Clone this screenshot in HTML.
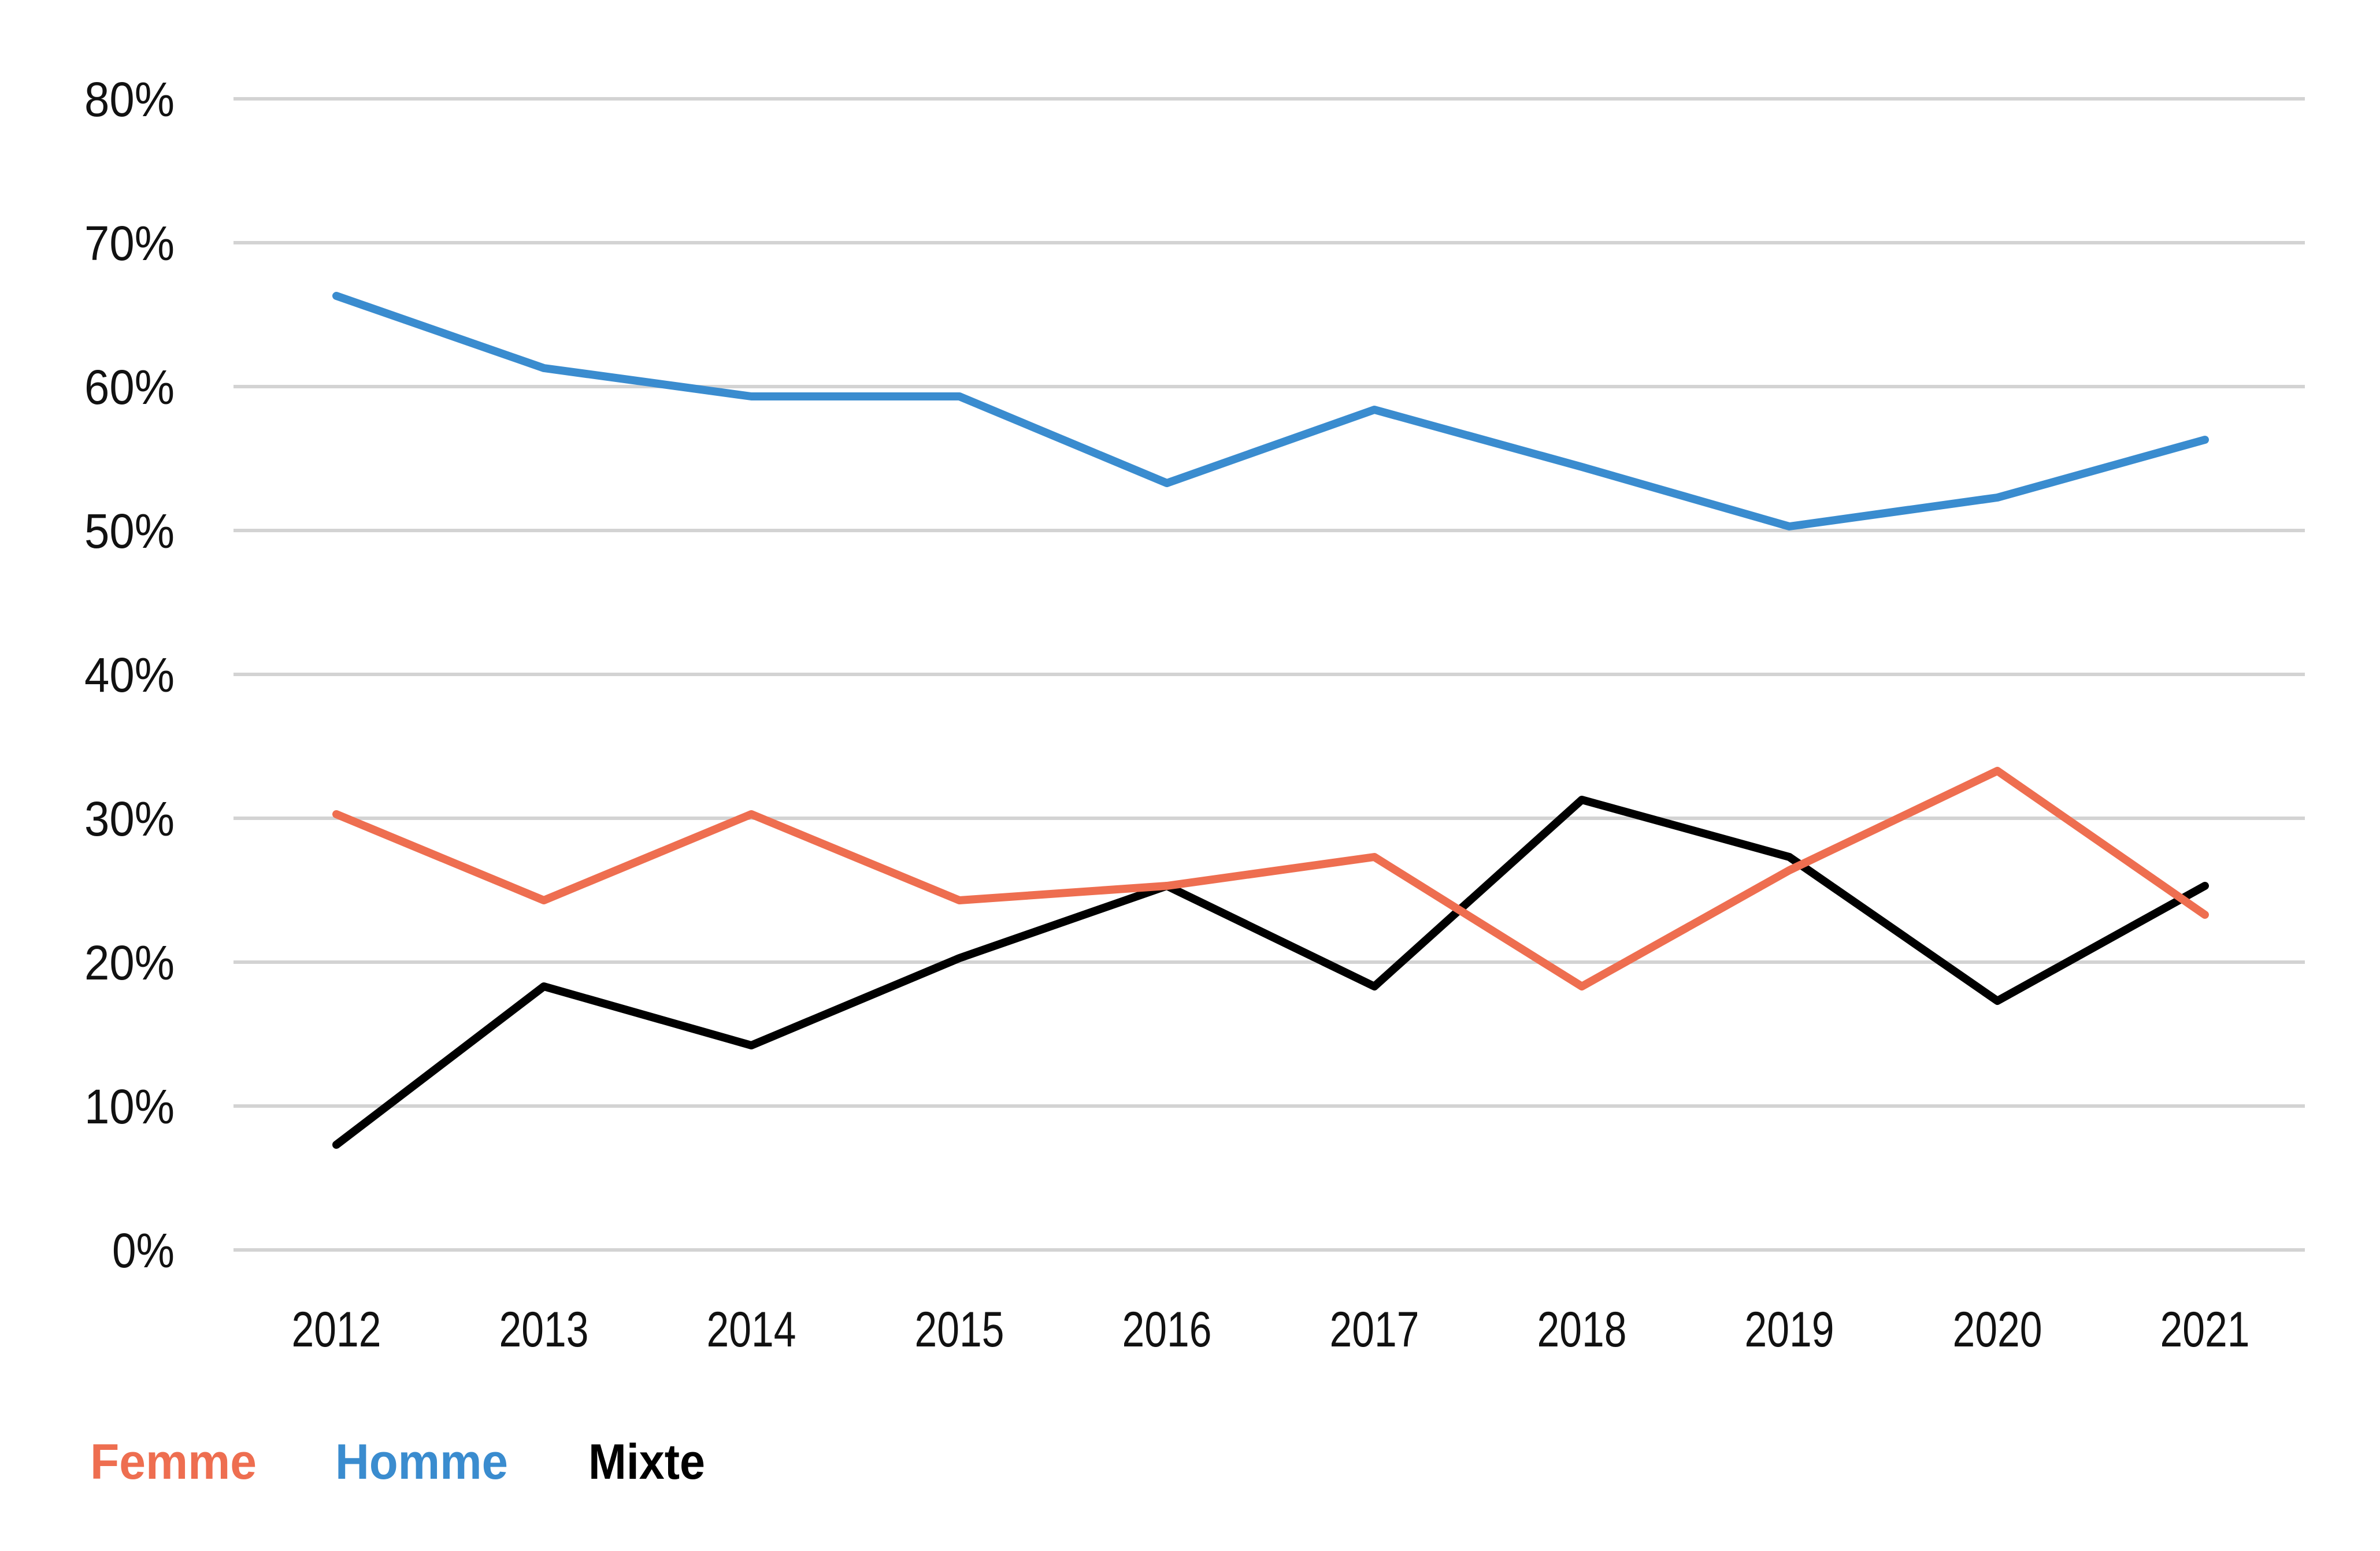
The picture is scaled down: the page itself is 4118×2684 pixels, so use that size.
<!DOCTYPE html>
<html><head><meta charset="utf-8"><style>html,body{margin:0;padding:0;background:#fff}svg{display:block}</style></head>
<body>
<svg width="4118" height="2684" viewBox="0 0 4118 2684" xmlns="http://www.w3.org/2000/svg" font-family="'Liberation Sans', sans-serif">
<g stroke="#d3d3d3" stroke-width="6">
<line x1="404" x2="3988" y1="171" y2="171"/>
<line x1="404" x2="3988" y1="420" y2="420"/>
<line x1="404" x2="3988" y1="669" y2="669"/>
<line x1="404" x2="3988" y1="918" y2="918"/>
<line x1="404" x2="3988" y1="1167" y2="1167"/>
<line x1="404" x2="3988" y1="1416" y2="1416"/>
<line x1="404" x2="3988" y1="1665" y2="1665"/>
<line x1="404" x2="3988" y1="1914" y2="1914"/>
<line x1="404" x2="3988" y1="2163" y2="2163"/>
</g>
<g font-size="84" fill="#111" text-anchor="end">
<text x="302" y="201" textLength="156" lengthAdjust="spacingAndGlyphs">80%</text>
<text x="302" y="450" textLength="156" lengthAdjust="spacingAndGlyphs">70%</text>
<text x="302" y="699" textLength="156" lengthAdjust="spacingAndGlyphs">60%</text>
<text x="302" y="948" textLength="156" lengthAdjust="spacingAndGlyphs">50%</text>
<text x="302" y="1197" textLength="156" lengthAdjust="spacingAndGlyphs">40%</text>
<text x="302" y="1446" textLength="156" lengthAdjust="spacingAndGlyphs">30%</text>
<text x="302" y="1695" textLength="156" lengthAdjust="spacingAndGlyphs">20%</text>
<text x="302" y="1944" textLength="156" lengthAdjust="spacingAndGlyphs">10%</text>
<text x="302" y="2193" textLength="108" lengthAdjust="spacingAndGlyphs">0%</text>
</g>
<g font-size="86" fill="#111" text-anchor="middle">
<text x="582" y="2330" textLength="155" lengthAdjust="spacingAndGlyphs">2012</text>
<text x="941" y="2330" textLength="155" lengthAdjust="spacingAndGlyphs">2013</text>
<text x="1300" y="2330" textLength="155" lengthAdjust="spacingAndGlyphs">2014</text>
<text x="1660" y="2330" textLength="155" lengthAdjust="spacingAndGlyphs">2015</text>
<text x="2019" y="2330" textLength="155" lengthAdjust="spacingAndGlyphs">2016</text>
<text x="2378" y="2330" textLength="155" lengthAdjust="spacingAndGlyphs">2017</text>
<text x="2737" y="2330" textLength="155" lengthAdjust="spacingAndGlyphs">2018</text>
<text x="3096" y="2330" textLength="155" lengthAdjust="spacingAndGlyphs">2019</text>
<text x="3456" y="2330" textLength="155" lengthAdjust="spacingAndGlyphs">2020</text>
<text x="3815" y="2330" textLength="155" lengthAdjust="spacingAndGlyphs">2021</text>
</g>
<g fill="none" stroke-width="14" stroke-linejoin="round" stroke-linecap="round">
<polyline stroke="#3a8ccf" points="582,512 941,637 1300,686 1660,686 2019,836 2378,709 2737,808 3096,911 3456,861 3815,761"/>
<polyline stroke="#000" points="582,1981 941,1707 1300,1809 1660,1658 2019,1533 2378,1707 2737,1384 3096,1483 3456,1732 3815,1533"/>
<polyline stroke="#ee6e50" points="582,1409 941,1558 1300,1409 1660,1558 2019,1533 2378,1483 2737,1707 3096,1506 3456,1334 3815,1583"/>
</g>
<g font-size="86" font-weight="bold">
<text x="156" y="2559" fill="#ee6e50" textLength="288" lengthAdjust="spacingAndGlyphs">Femme</text>
<text x="580" y="2559" fill="#3a8ccf" textLength="299" lengthAdjust="spacingAndGlyphs">Homme</text>
<text x="1018" y="2559" fill="#000" textLength="202" lengthAdjust="spacingAndGlyphs">Mixte</text>
</g>
</svg>
</body></html>
